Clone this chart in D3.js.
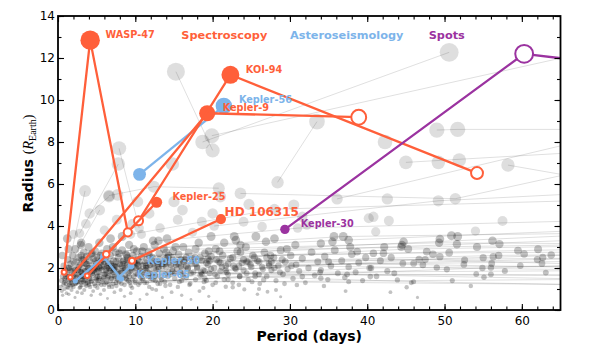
<!DOCTYPE html>
<html><head><meta charset="utf-8">
<script src="https://cdn.jsdelivr.net/npm/d3@7"></script>
<style>body{margin:0;background:#fff}text{font-family:"DejaVu Sans",sans-serif}</style>
</head><body><svg id="c" width="590" height="354"></svg>
<script>
const xTicks=[0,10,20,30,40,50,60];
const yTicks=[0,2,4,6,8,10,12,14];
const xMinor=d3.range(0,66,2);
const yMinor=d3.range(0,15,1);

// background multi-planet systems [period, radius]
const bgSystems=[
[[2.5,1.3],[7.3,1.6],[18.5,1.8],[95,1.3]],
[[4.6,1.9],[10.2,2.2],[24.4,2.3],[88,1.9]],
[[1.9,1.2],[5.3,1.5],[14.6,1.7],[30.2,2.1],[102,1.75]],
[[8.9,2.6],[19.4,2.45],[45.3,2.9],[110,3.3]],
[[6.1,1.7],[13.8,2.3],[78,2.5]],
[[11.4,2.0],[27.5,2.6],[84,3.0]],
[[3.7,2.2],[9.8,2.9],[36.9,3.5],[120,3.9]],
[[16.2,1.6],[40.5,2.0],[90,2.2]],
[[2.9,1.1],[9.1,1.4],[72,1.2]],
[[5.7,2.4],[20.9,2.8],[70,3.6]],
[[13.0,3.3],[31.0,3.9],[95,4.5]],
[[7.2,2.1],[22.7,2.1],[105,2.5]],
[[10.9,1.7],[33.9,1.8],[130,2.0]],
[[1.6,1.5],[4.0,1.3],[66,1.45]],
[[17.8,2.9],[49.3,3.2],[98,3.1]],
[[24.6,2.3],[57.0,2.6],[89,2.7]],
[[12.6,1.4],[37.4,1.7],[115,1.65]],
[[4.4,2.7],[15.2,3.0],[82,4.0]],
[[9.4,3.6],[28.0,4.8],[76,5.3]],
[[20.2,4.0],[49.2,5.2],[92,6.0]],
[[21.7,1.9],[47.5,2.4],[80,2.05]],
[[6.6,1.2],[19.0,1.5],[54.9,2.0],[100,2.4]],
[[27.3,2.1],[62.0,2.4],[120,2.9]],
[[14.2,2.5],[42.1,2.7],[87,2.8]],
[[3.0,1.8],[11.8,2.6],[73,3.4]],
[[15.25,11.35],[20.0,7.6]],
[[18.7,8.0],[50.6,12.27]],
[[28.4,6.08],[33.5,8.97]],
[[49.0,8.57],[51.7,8.6],[85,8.6]],
[[45.0,7.03],[100,8.2]],
[[58.2,6.9],[80,5.5]],
[[36.1,5.29],[90,10.0]],
[[7.9,7.7],[10.5,3.9]],
[[6.6,5.45],[12.4,5.87],[20.8,5.8]],
[[23.6,5.55],[51.4,5.3],[75,7.2]],
[[19.9,8.3],[70,12.4]],
[[1.3,2.0],[3.5,5.67]],
[[2.8,3.65],[7.8,6.95]],
[[4.1,4.6],[6.6,5.4]],
[[1.0,1.6],[3.0,3.2],[5.4,4.76]],
[[0.9,1.4],[2.2,1.9],[5.0,2.0],[12.0,1.6]],
[[1.2,1.1],[3.4,1.6],[8.4,2.3],[16.6,2.1]],
[[10.6,1.3],[23.5,1.6],[46.0,1.35],[68,1.2]],
[[2.0,1.6],[6.4,2.1],[15.9,2.4],[35.0,2.3],[75,2.7]],
[[3.3,2.4],[12.9,2.2],[29.6,2.9],[85,3.2]],
[[1.4,1.3],[6.9,1.9],[26.0,1.7],[95,1.6]]
];
// background single planets [period, radius]
const bgDense=[
[0.35,1.1],[0.45,1.4],[0.5,0.9],[0.6,1.6],[0.7,1.2],[0.74,2.1],[0.84,1.0],[0.9,1.5],[0.95,1.9],[1.05,1.25],[1.1,0.8],[1.2,1.7],[1.25,2.4],[1.3,1.05],[1.4,1.45],[1.45,2.0],[0.55,2.6],[1.35,2.9],[0.8,1.3],[1.5,1.2],
[1.55,1.6],[1.6,2.2],[1.7,1.3],[1.75,0.95],[1.8,1.85],[1.9,2.6],[1.95,1.45],[2.0,1.1],[2.1,2.0],[2.2,1.7],[2.25,2.9],[2.3,1.25],[2.4,2.3],[2.45,1.55],[2.5,0.85],[2.55,1.9],[2.6,1.35],[2.7,2.5],[2.75,1.65],[2.8,1.05],[2.85,2.15],[2.9,1.45],[2.95,3.1],[3.0,1.8],
[3.05,1.2],[3.1,2.4],[3.15,1.6],[3.2,2.0],[3.3,1.35],[3.35,2.75],[3.4,0.95],[3.45,1.85],[3.5,1.5],[3.6,2.2],[3.65,1.15],[3.7,2.55],[3.75,1.7],[3.8,1.3],[3.9,2.0],[3.95,3.0],[4.0,1.55],[4.1,2.35],[4.15,1.1],[4.2,1.8],[4.3,2.65],[4.35,1.4],[4.4,2.1],[4.5,1.65],[4.55,0.9],[4.6,2.45],[4.7,1.25],[4.75,1.95],[4.8,2.8],[4.9,1.5],[4.95,2.2],
[5.0,1.75],[5.1,1.05],[5.15,2.5],[5.2,1.4],[5.3,2.05],[5.35,3.2],[5.4,1.6],[5.5,2.3],[5.6,1.2],[5.65,1.9],[5.7,2.7],[5.8,1.45],[5.9,2.15],[5.95,0.95],[6.0,1.7],[6.1,2.45],[6.2,1.3],[6.3,2.0],[6.35,2.9],[6.4,1.55],[6.5,2.25],[6.6,1.1],[6.7,1.85],[6.75,2.6],[6.8,1.4],[6.9,2.1],[7.0,1.65],[7.1,3.0],[7.15,1.25],[7.2,2.35],[7.3,1.9],[7.4,1.5],[7.45,2.75],
[7.55,1.15],[7.6,2.05],[7.7,1.7],[7.8,2.5],[7.9,1.35],[8.0,2.2],[8.1,0.95],[8.2,1.85],[8.3,2.85],[8.4,1.55],[8.5,2.35],[8.6,1.2],[8.7,2.0],[8.8,2.65],[8.9,1.45],[9.0,2.15],[9.1,1.75],[9.2,3.1],[9.3,1.3],[9.4,2.4],[9.5,1.9],[9.6,1.05],[9.7,2.6],[9.8,1.6],[9.9,2.25],
[10.0,1.4],[10.1,2.0],[10.2,2.8],[10.3,1.7],[10.4,1.2],[10.5,2.3],[10.6,1.85],[10.8,2.55],[10.9,1.5],[11.0,2.1],[11.1,3.0],[11.2,1.3],[11.3,1.9],[11.5,2.4],[11.6,1.6],[11.7,2.75],[11.8,1.1],[11.9,2.15],[12.0,1.75],[12.2,2.5],[12.3,1.45],[12.4,2.0],[12.5,3.1],[12.6,1.65],[12.8,2.3],[12.9,1.25],[13.0,1.95],[13.1,2.7],[13.3,1.55],[13.4,2.2],[13.6,1.8],[13.7,2.9],[13.8,1.35],[13.9,2.45],[14.0,2.05],[14.2,1.6],[14.3,2.6],[14.5,1.2],[14.6,2.15],[14.8,1.85],[14.9,2.8],
[15.1,1.5],[15.2,2.3],[15.4,1.95],[15.6,2.65],[15.7,1.35],[15.9,2.1],[16.1,1.7],[16.2,3.0],[16.4,2.4],[16.6,1.55],[16.8,2.0],[16.9,2.75],[17.1,1.25],[17.3,2.2],[17.5,1.8],[17.7,2.5],[17.8,1.45],[18.0,2.05],[18.2,3.2],[18.4,1.65],[18.6,2.35],[18.8,1.9],[19.0,2.7],[19.2,1.4],[19.4,2.15],[19.6,1.75],[19.8,2.55],[20.0,1.2],[20.2,2.0],[20.4,2.9],[20.6,1.6],[20.8,2.3],[21.0,1.85],[21.3,2.6],[21.5,1.45],[21.7,2.1],
[22.0,1.7],[22.3,2.45],[22.6,1.3],[22.9,2.0],[23.2,2.8],[23.5,1.6],[23.8,2.25],[24.0,1.9],[24.3,3.0],[24.6,1.45],[24.9,2.15],[25.2,2.6],[25.5,1.75],[25.8,2.35],[26.1,1.25],[26.4,2.05],[26.7,2.75],[27.0,1.6],[27.3,2.2],[27.6,1.9],[27.9,2.5],[28.2,1.4],[28.5,2.1],[28.8,2.85],[29.1,1.7],[29.4,2.3],[29.7,1.95]
];
const bgCore=[
[2.3,1.5],[2.6,1.9],[2.9,1.6],[3.2,1.75],[3.5,1.4],[3.8,1.9],[4.1,1.5],[4.4,1.75],[4.7,2.0],[5.0,1.45],[5.3,1.8],[5.6,2.1],[5.9,1.55],[6.2,1.9],[6.5,1.6],[6.8,2.2],[7.1,1.8],[7.4,2.05],[7.7,1.45],[8.0,1.75],[8.3,2.1],[8.6,1.9],[8.9,2.3],[9.2,1.6],[9.5,2.0],[9.8,2.3],[10.1,1.75],[10.4,2.1],[10.7,1.55],[11.0,1.8],[11.3,2.25],[11.6,2.0],[12.0,1.5],[12.3,2.2],[12.7,1.9],[13.1,2.4],[13.5,2.1],[13.9,1.7],[14.4,2.3],[14.8,1.95],[15.3,2.15],[15.8,1.8],[16.3,2.3],[16.8,1.95],[17.4,2.45],[18.0,2.0],[18.6,1.7],[19.2,2.25],[19.8,1.95],[20.5,2.4],[21.2,2.05],[22.0,2.2],[23.0,1.95],[24.0,2.4],[25.0,2.05],[26.0,2.3],[27.0,2.5],[28.0,2.0],[29.0,2.4],[3.0,1.3],[4.0,1.2],[5.2,1.25],[6.3,1.35],[7.5,1.3],[8.8,1.5],[10.0,1.3],[1.8,1.4],[2.1,1.75],[1.5,1.9],
[15.5,1.1],[17.0,1.2],[18.8,1.05],[20.4,1.3],[23.4,1.2],[26.0,1.0],[29.3,1.25],[12.2,1.0],[13.9,1.15],
[1.3,1.6],[1.7,1.15],[2.0,2.3],[2.4,1.35],[2.7,2.05],[3.1,1.45],[3.4,2.25],[3.7,1.6],[4.0,2.0],[4.3,1.35],[4.6,1.85],[4.9,2.35],[5.1,1.6],[5.4,2.0],[5.7,1.35],[6.0,2.3],[6.3,1.75],[6.6,2.0],[6.9,1.5],[7.2,1.95],[7.5,2.3],[7.8,1.8],[8.1,1.5],[8.4,2.0],[8.7,1.65],[9.0,2.5],[9.3,1.85],[9.6,1.45],[9.9,2.05],[10.3,2.4],[10.6,1.9],[11.0,1.45],[11.4,2.1],[11.8,1.75],[12.2,2.35],[12.6,1.6],[13.0,2.05],[13.4,1.45],[13.8,2.2],[14.3,1.8],[14.7,2.5],[15.1,1.75],[15.6,2.2],[16.1,1.95],[16.6,2.5],[17.2,1.75],[17.8,2.2],[18.4,2.5],[19.0,1.85],[19.6,2.35],[20.3,1.7],[21.0,2.25],[21.8,1.8],[22.6,2.5],[23.4,2.1],[24.4,1.75],[25.4,2.5],[26.5,1.95],[27.6,2.3],[28.7,1.8],[2.2,1.25],[3.6,1.25],[4.8,1.15],[6.0,1.2],[7.0,1.1],[8.2,1.25],[9.4,1.15],[11.5,1.3],[13.2,1.25],[16.0,1.4],[18.9,1.35],[22.0,1.45],[25.5,1.6],[5.5,2.6],[7.9,2.7],[10.9,2.8],[14.0,2.75],[3.0,2.6],[19.5,2.8],[23.6,2.75]
];
const bgOuter=[
[30.1,2.6],[30.4,1.5],[30.8,2.15],[31.2,1.85],[31.6,2.45],[32.0,1.3],[32.4,2.0],[32.8,2.75],[33.2,1.65],[33.6,2.3],[34.0,1.9],[34.5,2.55],[34.9,1.45],[35.3,2.1],[35.8,2.85],[36.2,1.75],[36.7,2.35],[37.1,1.55],[37.6,2.05],[38.0,2.65],[38.5,1.8],[38.9,2.25],[39.4,1.4],[39.8,2.5],
[40.3,2.0],[40.8,2.7],[41.2,1.6],[41.7,2.35],[42.2,3.0],[42.6,1.85],[43.1,2.5],
[44.7,3.25],[44.4,3.0],[50.9,3.54],[51.7,3.5],[49.4,3.38],[56.2,3.3],[57.1,3.14],[51.6,3.13],[54.2,3.0],[59.5,2.83],[60.3,2.67],[62.1,2.89],[63.8,2.62],[62.7,2.5],[50.6,2.73],[49.4,2.54],[48.5,2.65],[47.7,2.78],[46.7,2.41],[55.0,2.49],[56.3,2.54],[56.1,2.22],[52.6,2.38],[52.5,2.17],[62.6,2.22],[59.8,2.11],[49.0,2.02],[50.3,1.94],[47.2,2.14],[46.0,2.22],[44.6,2.22],[57.8,1.86],[56.0,2.02],[63.1,1.78],[54.1,1.71],[55.1,1.56],[56.0,1.7],[51.0,1.4],[45.7,1.3],[43.9,1.43],[45.1,1.08],[53.4,1.14],[43.5,1.75],[54.0,3.76],[57.5,4.24],
[31.6,1.59],[34.0,1.51],[37.6,1.35],[40.4,1.59],[26.6,1.43],[25.1,1.35]
];
const bgUpper=[
[1.2,3.4],[2.0,3.6],[3.6,4.1],[6.0,3.8],[6.8,3.4],[7.6,4.3],[8.3,3.5],[9.6,4.1],[10.8,3.6],[11.8,4.6],[13.2,3.9],[14.1,3.4],[15.5,4.3],[16.1,4.76],[17.4,3.7],[18.6,4.2],[19.8,3.5],[20.0,4.6],[22.8,3.5],[23.0,3.33],[23.6,3.1],[25.6,3.5],[26.4,3.97],[26.9,3.25],[30.7,3.1],[31.6,4.44],[32.2,4.05],[34.0,3.17],[35.5,3.25],[35.7,3.5],[37.6,3.33],[37.8,3.0],[38.7,2.78],[40.2,4.37],[40.8,4.44],[41.1,3.73],[42.8,4.25],[44.5,3.1],[24.0,4.2],[28.0,3.4],[12.3,3.3],[21.5,3.2],
[7.7,5.48],[10.3,5.16],[15.0,5.16],[21.0,5.4],[24.7,5.03],[30.5,5.0],[42.6,5.29],[14.8,6.95],[42.3,8.0],[49.2,7.03],[51.9,7.14]
];
const bgSmall=[
[0.6,0.7],[1.4,0.75],[2.2,0.6],[3.1,0.8],[4.3,0.7],[5.5,0.75],[6.4,0.55],[7.3,0.85],[8.6,0.65],[9.4,0.8],[10.6,0.5],[11.5,0.75],[12.7,0.95],[13.5,0.6],[14.7,0.85],[16.0,0.7],[17.2,0.5],[18.3,0.9],[19.5,0.65],[21.7,1.11],[22.6,1.08],[24.1,0.98],[27.1,0.87],[28.2,0.95],[28.8,0.63],[30.9,1.19],[34.4,1.14],[20.5,0.4],[25.8,0.75],[37.2,0.9],[43.0,0.85],[46.5,0.6]
];

// highlighted systems: [period, radius, open(1)/filled(0)]
const wasp47=[[0.79,1.8,1],[4.16,12.85,0],[9.03,3.7,1]];
const kepler9=[[1.59,1.56,1],[19.3,9.37,0],[38.9,9.18,1]];
const koi94=[[3.77,1.63,1],[10.42,4.25,1],[22.3,11.2,0],[54.2,6.52,1]];
const kepler25=[[6.24,2.65,1],[12.75,5.13,0]];
const hd106315=[[9.57,2.35,1],[21.08,4.33,0]];
const kepler56=[[10.55,6.46,0],[21.45,9.72,0]];
const kepler65=[[2.24,1.38,0],[5.9,2.52,0],[8.2,1.48,0]];
const kepler50=[[7.9,1.55,0],[9.45,2.1,0]];
const kepler30=[[29.35,3.84,0],[60.3,12.2,1],[143.3,8.5,1]];

const C_SPEC="#ff5f3a", C_AST="#7db4ea", C_SPOT="#9b33a0";

const svg=d3.select("#c");
const L=58,R=560.5,T=16,B=310;
const x=d3.scaleLinear([0,65],[L,R]);
const y=d3.scaleLinear([0,14],[B,T]);
const rs=v=>2.1*Math.pow(v,0.6);

svg.append("defs").append("clipPath").attr("id","clip").append("rect")
  .attr("x",L).attr("y",T).attr("width",R-L).attr("height",B-T);
const g=svg.append("g").attr("clip-path","url(#clip)");
const line=d3.line().x(d=>x(d[0])).y(d=>y(d[1]));

// background
const bgG=g.append("g");
bgG.selectAll("path.bg").data(bgSystems).join("path").attr("class","bg")
  .attr("d",line).attr("fill","none").attr("stroke","#000").attr("stroke-opacity",0.18).attr("stroke-width",0.7);
const allBg=[].concat(...bgSystems,bgDense,bgCore,bgOuter,bgUpper,bgSmall);
bgG.selectAll("circle").data(allBg).join("circle")
  .attr("cx",d=>x(d[0])).attr("cy",d=>y(d[1])).attr("r",d=>rs(d[1]))
  .attr("fill","#000").attr("fill-opacity",d=>d[1]<3.6?0.24:0.13);

function drawSys(data,color){
  const sg=g.append("g");
  sg.append("path").datum(data).attr("d",line).attr("fill","none")
    .attr("stroke",color).attr("stroke-width",2.3).attr("stroke-linejoin","round");
  sg.selectAll("circle").data(data).join("circle")
    .attr("cx",d=>x(d[0])).attr("cy",d=>y(d[1]))
    .attr("r",d=>d[2]?rs(d[1])-0.5:rs(d[1]))
    .attr("fill",d=>d[2]?"#fff":color)
    .attr("stroke",d=>d[2]?color:"none").attr("stroke-width",2);
}
drawSys(kepler56,C_AST);
drawSys(kepler65,C_AST);
drawSys(kepler50,C_AST);
drawSys(kepler9,C_SPEC);
drawSys(koi94,C_SPEC);
drawSys(kepler25,C_SPEC);
drawSys(hd106315,C_SPEC);
drawSys(wasp47,C_SPEC);
drawSys(kepler30,C_SPOT);

// labels (data coordinates)
function lab(t,px,py,color,size){
  svg.append("text").attr("x",x(px)).attr("y",y(py)).attr("dy","0.36em")
    .attr("fill",color).attr("font-weight","bold").style("font-size",size+"px").text(t);
}
lab("WASP-47",6.15,13.1,C_SPEC,9.7);
lab("Spectroscopy",15.95,13.1,C_SPEC,11.3);
lab("Asteroseismology",30.0,13.12,C_AST,11.3);
lab("Spots",47.95,13.12,C_SPOT,11.3);
lab("KOI-94",24.3,11.46,C_SPEC,9.7);
lab("Kepler-56",23.4,10.0,C_AST,9.7);
lab("Kepler-9",21.3,9.63,C_SPEC,9.7);
lab("Kepler-25",14.8,5.4,C_SPEC,9.7);
lab("HD 106315",21.55,4.68,C_SPEC,12);
lab("Kepler-30",31.4,4.13,C_SPOT,9.7);
lab("Kepler-50",11.5,2.35,C_AST,9.7);
lab("Kepler-65",10.2,1.71,C_AST,9.7);

// axes
function ax(gen,tr,vals,size,labels,pad){
  const a=svg.append("g").attr("transform",tr)
    .call(gen.tickValues(vals).tickSize(-size).tickPadding(pad).tickFormat(labels?d3.format("d"):()=>""));
  a.select(".domain").remove();
  a.selectAll("line").attr("stroke","#000").attr("stroke-width",1.1);
  a.selectAll("text").style("font-size","12px").attr("fill","#000").style("font-family","DejaVu Sans");
  return a;
}
ax(d3.axisBottom(x),`translate(0,${B})`,xMinor,3.5,false,0);
ax(d3.axisTop(x),`translate(0,${T})`,xMinor,3.5,false,0);
ax(d3.axisLeft(y),`translate(${L},0)`,yMinor,3.5,false,0);
ax(d3.axisRight(y),`translate(${R},0)`,yMinor,3.5,false,0);
ax(d3.axisBottom(x),`translate(0,${B})`,xTicks,6,true,6);
ax(d3.axisTop(x),`translate(0,${T})`,xTicks,6,false,0);
ax(d3.axisLeft(y),`translate(${L},0)`,yTicks,6,true,3);
ax(d3.axisRight(y),`translate(${R},0)`,yTicks,6,false,0);

svg.append("rect").attr("x",L).attr("y",T).attr("width",R-L).attr("height",B-T)
  .attr("fill","none").attr("stroke","#000").attr("stroke-width",1.8);

// axis titles
svg.append("text").attr("x",(L+R)/2).attr("y",341).attr("text-anchor","middle")
  .attr("font-weight","bold").style("font-size","14px").text("Period (days)");
const yl=svg.append("text").attr("transform","translate(33,163.5) rotate(-90)")
  .attr("text-anchor","middle").style("font-size","14px");
yl.append("tspan").attr("font-weight","bold").text("Radius ");
yl.append("tspan").style("font-family","Liberation Serif").text("(");
yl.append("tspan").style("font-family","Liberation Serif").attr("font-style","italic").text("R");
yl.append("tspan").style("font-family","Liberation Serif").style("font-size","10px").attr("dy",3).text("Earth");
yl.append("tspan").style("font-family","Liberation Serif").attr("dy",-3).text(")");
</script></body></html>
